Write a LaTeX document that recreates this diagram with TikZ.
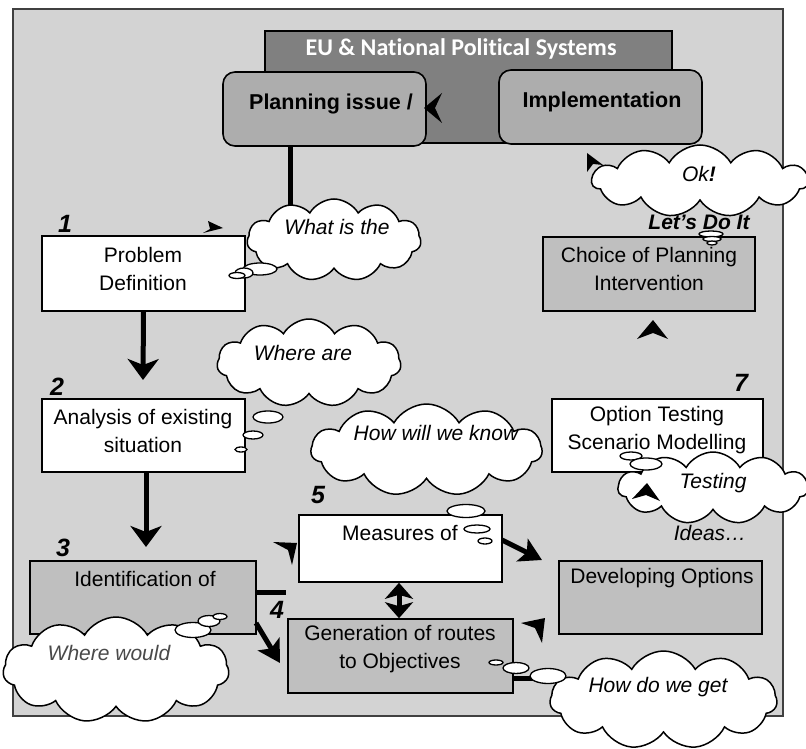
\documentclass[tikz,border=0pt]{standalone}
\usepackage{fontspec}
\setmainfont{Liberation Sans}
\newfontfamily\carlito[Ligatures=NoCommon]{Carlito}
\usetikzlibrary{shapes.symbols,arrows.meta}
\definecolor{bggray}{HTML}{D3D3D3}
\definecolor{eugray}{HTML}{808080}
\definecolor{rndgray}{HTML}{ADADAD}
\definecolor{boxgray}{HTML}{BFBFBF}
\definecolor{framegray}{HTML}{404040}
\definecolor{softtext}{HTML}{4A4A4A}
\begin{document}
\begin{tikzpicture}[x=1pt,y=-1pt,
  boxw/.style={draw=black, line width=1.6pt, fill=white, inner sep=0pt},
  boxg/.style={draw=black, line width=1.6pt, fill=boxgray, inner sep=0pt},
  rnd/.style={draw=black, line width=1.6pt, fill=rndgray, rounded corners=12pt, inner sep=0pt},
  txt/.style={inner sep=0pt, align=center, font=\fontsize{21}{28}\selectfont},
  btxt/.style={inner sep=0pt, align=center, font=\fontsize{21.5}{26}\selectfont\bfseries},
  ctxt/.style={inner sep=0pt, align=center, font=\fontsize{21}{28}\selectfont\itshape},
  numtxt/.style={inner sep=0pt, font=\fontsize{25}{28}\selectfont\bfseries\itshape},
  thickline/.style={line width=5pt, draw=black},
  arr/.style={line width=5pt, draw=black, -{Stealth[length=21pt,width=31pt,inset=6pt]}},
  arrs/.style={line width=5pt, draw=black, -{Stealth[length=22pt,width=25pt,inset=5pt]}},
  darr/.style={line width=5pt, draw=black, {Stealth[length=16pt,width=28pt,inset=4pt]}-{Stealth[length=16pt,width=28pt,inset=4pt]}},
  cloudy/.style={cloud, cloud puffs=11, cloud puff arc=120, cloud ignores aspect, draw=black, line width=1.5pt, fill=white, inner sep=0pt},
  bub/.style={draw=black, line width=1.3pt, fill=white},
  head/.style={fill=black}]
\useasboundingbox (0,0) rectangle (806,749);
\fill[white] (0,0) rectangle (806,749);
% outer frame
\draw[line width=1.8pt, draw=framegray, fill=bggray] (13,9) rectangle (783,716);
% political systems band
\node[draw=black, line width=1.4pt, fill=eugray, minimum width=407pt, minimum height=112pt, inner sep=0pt] (eu) at (468.5,87) {};
\node[inner sep=0pt, text=white, font=\fontsize{24}{28}\selectfont\carlito\bfseries] (eut) at (461,49) {EU \& National Political Systems};
% top rounded boxes
\node[rnd, minimum width=203pt, minimum height=74pt] (plan) at (324.5,109) {};
\node[btxt] (plant) at (331,104) {Planning issue /};
\node[rnd, minimum width=203pt, minimum height=74pt] (impl) at (600.5,107) {};
\node[btxt] (implt) at (602,102) {Implementation};
% named free ends
\coordinate (e1) at (290,214);
\coordinate (e2) at (143,380);
\coordinate (e3) at (146,547);
\coordinate (e4) at (286,592);
\coordinate (e5s) at (256,623);
\coordinate (e5) at (280,663);
\coordinate (e6s) at (502,540);
\coordinate (e6) at (542,560);
\coordinate (e7) at (399,0);
\coordinate (e8) at (535,678);
% process boxes
\node[boxw, minimum width=203pt, minimum height=75pt] (pd) at (143.5,273.5) {};
\node[boxw, minimum width=203pt, minimum height=73pt] (an) at (143.5,435.5) {};
\node[boxg, minimum width=226pt, minimum height=73pt] (id) at (143,597.5) {};
\node[boxw, minimum width=203pt, minimum height=67pt] (ms) at (400.5,548.5) {};
\node[boxg, minimum width=225pt, minimum height=74pt] (gen) at (400.5,656) {};
\node[boxg, minimum width=203pt, minimum height=73pt] (dev) at (660.5,597.5) {};
\node[boxw, minimum width=211pt, minimum height=73pt] (opt) at (657.5,435.5) {};
\node[boxg, minimum width=212pt, minimum height=74pt] (ch) at (649,274) {};
% connectors
\draw[thickline] (plan.south -| e1) -- (e1);
\draw[arr] (pd.south) -- (e2);
\draw[arr] (an.south -| e3) -- (e3);
\draw[thickline] (id.east |- e4) -- (e4);
\draw[arrs] (e5s) -- (e5);
\draw[arrs] (e6s) -- (e6);
\draw[darr] (ms.south -| e7) -- (gen.north -| e7);
\draw[thickline] (gen.east |- e8) -- (e8);
% box texts
\node[txt] (pdt) at (143,269) {Problem\\Definition};
\node[txt] (ant) at (143,431) {Analysis of existing\\situation};
\node[txt] (idt) at (145,579) {Identification of};
\node[txt] (mst) at (400,533) {Measures of};
\node[txt] (gent) at (400,649) {Generation of routes\\to Objectives};
\node[txt] (devt) at (662,578) {Developing Options};
\node[txt] (optt) at (657,430) {Option Testing\\Scenario Modelling};
\node[txt] (cht) at (649,269) {Choice of Planning\\Intervention};
% numbers
\node[numtxt] (n1) at (65,224) {1};
\node[numtxt] (n2) at (57,387) {2};
\node[numtxt] (n3) at (63,548) {3};
\node[numtxt] (n4) at (277,610) {4};
\node[numtxt] (n5) at (318,495) {5};
\node[numtxt] (n7) at (741,383) {7};
% text under testing cloud
\node[ctxt] (ideas) at (710,533) {Ideas…};
% clouds
\node[cloudy, minimum width=174pt, minimum height=82pt] (q1) at (334,240) {};
\node[cloudy, minimum width=184pt, minimum height=88pt] (q2) at (309,363) {};
\node[cloudy, minimum width=231pt, minimum height=92pt] (q5) at (426.5,450) {};
\node[cloudy, minimum width=216pt, minimum height=72pt] (qok) at (700,181) {};
\node[cloudy, minimum width=190pt, minimum height=72pt] (q7) at (713,488) {};
\node[cloudy, minimum width=226pt, minimum height=106pt] (q3) at (116,670) {};
\node[cloudy, minimum width=227pt, minimum height=98pt] (q4) at (663.5,700) {};
% thought bubbles
\draw[bub] (260,269) ellipse [x radius=17, y radius=6];
\draw[bub] (244,273) ellipse [x radius=9, y radius=5];
\draw[bub] (237,275.5) ellipse [x radius=8, y radius=3];
\draw[bub] (268,417) ellipse [x radius=15, y radius=6];
\draw[bub] (253,435) ellipse [x radius=10, y radius=4];
\draw[bub] (241,449.5) ellipse [x radius=6, y radius=2.5];
\draw[bub] (466,511) ellipse [x radius=19, y radius=6.5];
\draw[bub] (477,529) ellipse [x radius=13, y radius=4];
\draw[bub] (485,541) ellipse [x radius=7, y radius=3];
\draw[bub] (631,456) ellipse [x radius=11, y radius=4];
\draw[bub] (646,464) ellipse [x radius=16, y radius=6];
\draw[bub] (711,234) ellipse [x radius=12, y radius=3];
\draw[bub] (712,239) ellipse [x radius=9, y radius=2.5];
\draw[bub] (712,243) ellipse [x radius=5, y radius=2];
\draw[bub] (193,630) ellipse [x radius=18, y radius=7.5];
\draw[bub] (209,621) ellipse [x radius=11, y radius=5.5];
\draw[bub] (220,616.5) ellipse [x radius=7, y radius=3];
\draw[bub] (496,662.5) ellipse [x radius=7, y radius=2.5];
\draw[bub] (516,668) ellipse [x radius=13, y radius=5.5];
\draw[bub] (548,676) ellipse [x radius=18, y radius=7.5];
% cloud texts
\node[ctxt] (q1t) at (337,227) {What is the};
\node[ctxt] (q2t) at (303,353) {Where are};
\node[ctxt] (q5t) at (436,433) {How will we know};
\node[ctxt] (qokt) at (699,174) {Ok\textbf{!}};
\node[inner sep=0pt, font=\fontsize{21}{26}\selectfont\bfseries\itshape] (lets) at (699,222) {Let’s Do It};
\node[ctxt] (q7t) at (713,483) {Testing};
\node[ctxt, text=softtext] (q3t) at (109,653) {Where would};
\node[ctxt] (q4t) at (658,687) {How do we get};
% free arrowheads
\fill[head] (424,108) -- (442,93) -- (435,108) -- (442,123) -- cycle;
\fill[head] (223,228) -- (208,221) -- (210,229) -- (203,233) -- cycle;
\fill[head] (587,153) -- (603,165) -- (593,164) -- (587,172) -- cycle;
\fill[head] (653,320) -- (668,339) -- (653,333) -- (637,339) -- cycle;
\fill[head] (647,483) -- (660,501) -- (646,495) -- (632,499) -- cycle;
\fill[head] (297,543) -- (292,565) -- (288,550) -- (273,542) -- cycle;
\fill[head] (545,618) -- (542,643) -- (535,628) -- (521,623) -- cycle;
\end{tikzpicture}
\end{document}
